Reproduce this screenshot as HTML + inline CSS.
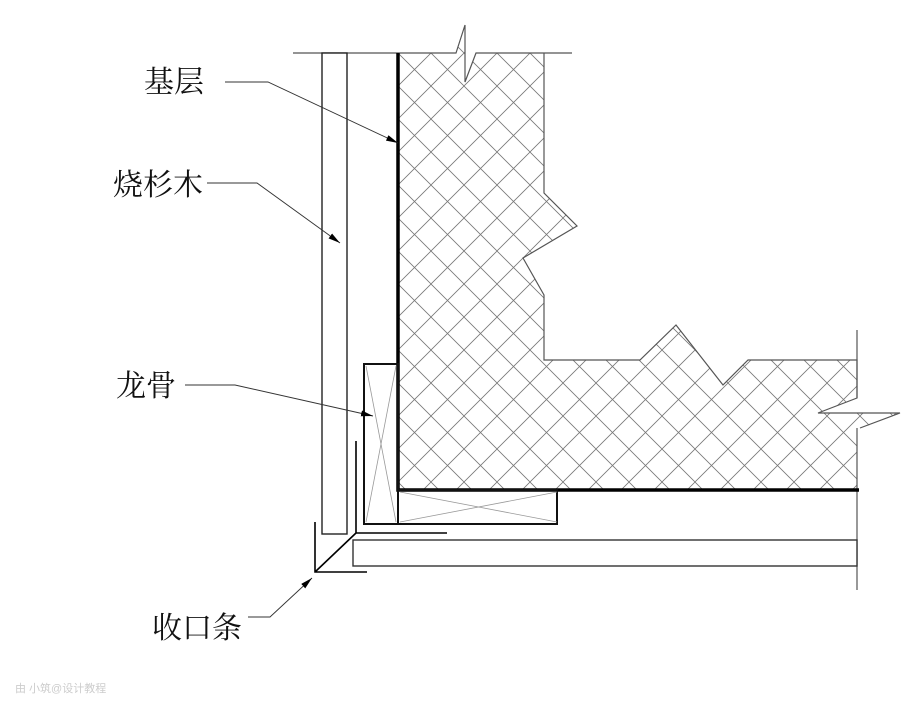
<!DOCTYPE html>
<html><head><meta charset="utf-8"><style>
html,body{margin:0;padding:0;background:#fff;width:923px;height:711px;overflow:hidden}
text{font-family:"Liberation Serif","Noto Serif CJK SC",serif;font-size:30px;fill:#111}
</style></head><body>
<svg width="923" height="711" viewBox="0 0 923 711" xmlns="http://www.w3.org/2000/svg">
<defs>
<pattern id="h" width="33" height="33" patternUnits="userSpaceOnUse" x="398" y="53">
<path d="M0 0L33 33M33 0L0 33" stroke="#777" stroke-width="0.8" fill="none"/>
</pattern>
<marker id="a" markerWidth="12" markerHeight="6" refX="12" refY="3" orient="auto" markerUnits="userSpaceOnUse">
<path d="M0 0L12 3L0 6Z" fill="#000"/>
</marker>
</defs>
<!-- hatched mass -->
<path d="M398 53 L456 53 L465 25 L465 82 L476 53 L544 53 L544 193 L577 226 L523 258 L544 295 L544 360 L640 360 L676 325 L723 385 L748 360 L857 360 L857 398 L818 413 L900 413 L857 430 L857 490 L398 490 Z" fill="url(#h)" stroke="none"/>
<path d="M544 53 L544 193 L577 226 L523 258 L544 295 L544 360 L640 360 L676 325 L723 385 L748 360 L857 360 L857 398 L818 413 L900 413 L860 428" fill="none" stroke="#555" stroke-width="1.2"/>
<path d="M857 330 L857 398 M857 428 L857 590" stroke="#555" stroke-width="1.2" fill="none"/>
<!-- top line with break -->
<path d="M293 53 L456 53 L465 25 L465 82 L476 53 L572 53" fill="none" stroke="#555" stroke-width="1.2"/>
<!-- thick base layer -->
<path d="M398 53 L398 490 L859 490" fill="none" stroke="#000" stroke-width="3.5"/>
<!-- panel vertical -->
<rect x="322" y="53" width="25" height="481" fill="#fff" stroke="#222" stroke-width="1.4"/>
<!-- stud vertical -->
<rect x="364" y="364" width="34" height="160" fill="none" stroke="#111" stroke-width="2"/>
<path d="M366 366 L381 444 L396 522 M396 366 L381 444 L366 522" stroke="#999" stroke-width="0.8" fill="none"/>
<!-- stud horizontal -->
<rect x="398" y="490" width="159" height="34" fill="none" stroke="#111" stroke-width="2"/>
<path d="M400 522 L557 492 M400 492 L557 522" stroke="#999" stroke-width="0.8" fill="none"/>
<!-- horizontal panel -->
<rect x="353" y="540" width="504" height="26" fill="#fff" stroke="#333" stroke-width="1.4"/>
<!-- trim -->
<path d="M356 441 L356 533 L447 533 M356 533 L315 572 M315 522 L315 572 L367 572" fill="none" stroke="#000" stroke-width="1.6"/>
<!-- leaders -->
<path d="M225 82 L268 82 L398 143" fill="none" stroke="#333" stroke-width="0.9" marker-end="url(#a)"/>
<path d="M207 183 L257 183 L340 243" fill="none" stroke="#333" stroke-width="0.9" marker-end="url(#a)"/>
<path d="M185 385 L235 385 L373 416" fill="none" stroke="#333" stroke-width="0.9" marker-end="url(#a)"/>
<path d="M248 617 L270 617 L312 578" fill="none" stroke="#333" stroke-width="0.9" marker-end="url(#a)"/>
<text x="144" y="92">基层</text>
<text x="113" y="195">烧杉木</text>
<text x="116" y="396">龙骨</text>
<text x="152" y="638">收口条</text>
<text x="15" y="692" style="font-size:11px;fill:#ccc;font-family:'Liberation Sans','Noto Sans CJK SC',sans-serif">由 小筑@设计教程</text>
</svg>
</body></html>
